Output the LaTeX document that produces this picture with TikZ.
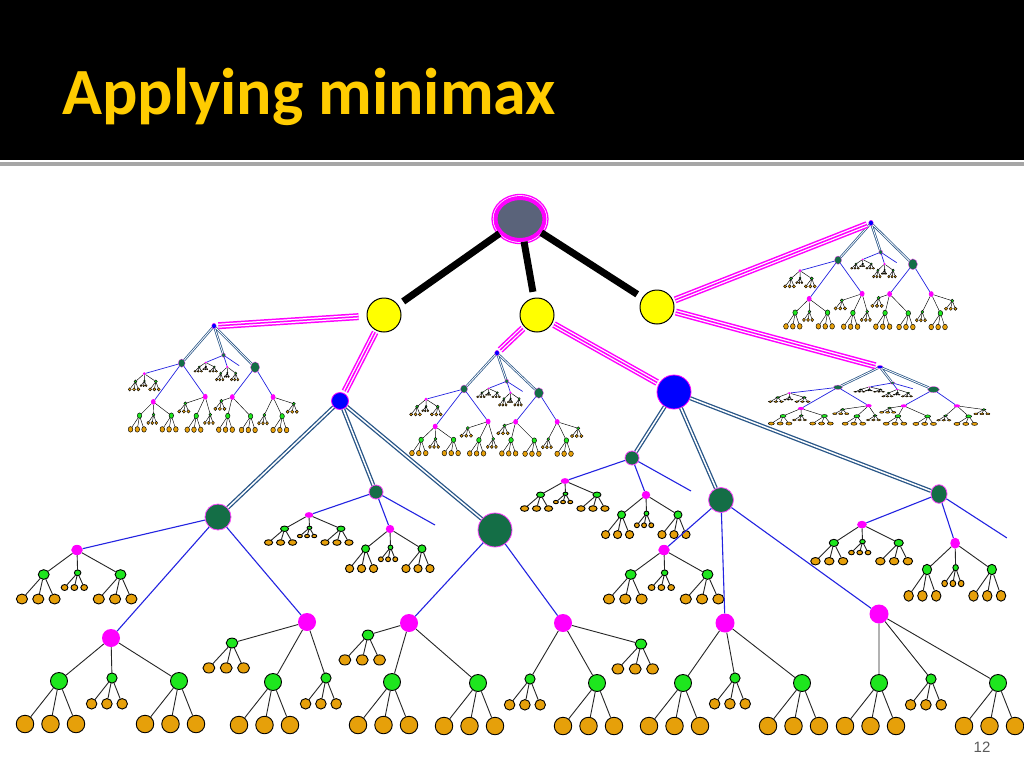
\documentclass[tikz,border=0pt]{standalone}
\usepackage{fontspec}
\setmainfont{Carlito}
\newfontfamily\numfont{Liberation Sans}
\usetikzlibrary{shapes.geometric}
\definecolor{rootC}{RGB}{90,99,122}
\definecolor{titleC}{RGB}{255,204,0}
\definecolor{grnC}{RGB}{30,230,30}
\definecolor{leafC}{RGB}{230,160,10}
\definecolor{dgC}{RGB}{20,110,70}
\definecolor{steelC}{RGB}{40,85,135}
\definecolor{blueE}{RGB}{35,35,225}
\definecolor{magC}{RGB}{255,0,255}
\definecolor{yelC}{RGB}{255,255,0}
\definecolor{numC}{RGB}{90,90,90}
\tikzset{
 nd/.style={circle,inner sep=0pt,transform shape},
 bdrw/.style={line width=0.9pt},
 bdrm/.style={line width=0.8pt},
 nGrn/.style={nd,fill=grnC,draw=black,bdrw,minimum size=17pt},
 nLeaf/.style={nd,fill=leafC,draw=black,bdrw,minimum size=17.5pt},
 nMag/.style={nd,fill=magC,minimum size=18pt},
 nDg/.style={nd,fill=dgC,draw=magC!75!white,bdrm},
 nBlue/.style={nd,fill=blue,draw=magC,bdrm},
 nYel/.style={nd,fill=yelC,draw=black,line width=1pt,minimum size=34pt},
 eSteel/.style={draw=steelC,double=white,line width=1.3pt,double distance=1.5pt},
 eBlue/.style={draw=blueE,line width=1.1pt},
 eBlack/.style={draw=black!85,line width=0.9pt},
 eMagA/.style={draw=magC,double=white,line width=1.5pt,double distance=4pt,shorten <=2pt,shorten >=2pt},
 eMagB/.style={draw=magC,line width=1.5pt,shorten <=2pt,shorten >=2pt},
 eRoot/.style={draw=black,line width=7pt,shorten >=6pt},
 mini/.style={bdrw/.style={line width=0.45pt},bdrm/.style={line width=0.3pt},
   eSteel/.style={draw=steelC,double=white,line width=0.75pt,double distance=0.8pt},
   eBlue/.style={draw=blueE,line width=0.7pt},
   eBlack/.style={draw=black,line width=0.45pt}}
}
\newcommand\GRN[4]{%
 \begin{scope}[shift={#2},xscale=#3,yscale=#4]
 \node[nGrn] (#1) at (0,0) {};
 \node[nLeaf] (#1a) at (-34,43) {};
 \node[nLeaf] (#1b) at (-8.5,43) {};
 \node[nLeaf] (#1c) at (17,43) {};
 \draw[eBlack] (#1)--(#1a) (#1)--(#1b) (#1)--(#1c);
 \end{scope}}
\newcommand\PLY[4]{%
 \begin{scope}[shift={#2},xscale=#3,yscale=#4]
 \node[nMag] (#1) at (0,0) {};
 \GRN{#1x}{(-52,43)}{1}{1}
 \GRN{#1y}{(1,40)}{.6}{.6}
 \GRN{#1z}{(68,43)}{1}{1}
 \draw[eBlack] (#1)--(#1x) (#1)--(#1y) (#1)--(#1z);
 \end{scope}}
\newcommand\GSM[4]{%
 \begin{scope}[shift={#2},xscale=#3,yscale=#4]
 \node[nDg,minimum size=14pt] (#1) at (0,0) {};
 \PLY{#1p}{(-67,23)}{.47}{.32}
 \PLY{#1q}{(14,37)}{.47}{.46}
 \coordinate (#1e) at (59,33);
 \draw[eBlue] (#1)--(#1p) (#1)--(#1q) (#1)--(#1e);
 \end{scope}}
\newcommand\BTREE[4]{%
 \begin{scope}[shift={#2},xscale=#3,yscale=#4]
 \node[nBlue,minimum size=17pt] (#1) at (0,0) {};
 \node[nDg,minimum size=26pt] (#1G) at (-122,116) {};
 \GSM{#1H}{(36,91)}{1}{1}
 \node[nDg,minimum size=34pt] (#1I) at (155,129) {};
 \draw[eSteel] (#1)--(#1G) (#1)--(#1H) (#1)--(#1I);
 \PLY{#1m}{(-263,149)}{.64}{.57}
 \node[nMag] (#1P) at (-229,237) {};
 \GRN{#1Pa}{(-281,280)}{1}{1}
 \GRN{#1Pb}{(-228,277)}{.6}{.6}
 \GRN{#1Pc}{(-161,280)}{1}{1}
 \node[nMag] (#1Q) at (-33,221) {};
 \GRN{#1Qa}{(-108,242)}{.68}{.58}
 \GRN{#1Qb}{(-67,281)}{1}{1}
 \GRN{#1Qc}{(-14,277)}{.6}{.6}
 \node[nMag] (#1R) at (69,222) {};
 \GRN{#1Ra}{(28,234)}{.68}{.58}
 \GRN{#1Rb}{(52,281)}{1}{1}
 \GRN{#1Rc}{(138,282)}{1}{1}
 \node[nMag] (#1S) at (223,222) {};
 \GRN{#1Sa}{(190,278)}{.6}{.6}
 \GRN{#1Sb}{(257,282)}{1}{1}
 \GRN{#1Sc}{(301,243)}{.68}{.58}
 \draw[eBlue] (#1G)--(#1m) (#1G)--(#1P) (#1G)--(#1Q) (#1I)--(#1R) (#1I)--(#1S);
 \draw[eBlack] (#1P)--(#1Pa) (#1P)--(#1Pb) (#1P)--(#1Pc)
   (#1Q)--(#1Qa) (#1Q)--(#1Qb) (#1Q)--(#1Qc)
   (#1R)--(#1Ra) (#1R)--(#1Rb) (#1R)--(#1Rc)
   (#1S)--(#1Sa) (#1S)--(#1Sb) (#1S)--(#1Sc);
 \end{scope}}
\newcommand\TRI[3][]{\draw[eMagA,#1] (#2)--(#3); \draw[eMagB,#1] (#2)--(#3);}
\begin{document}
\begin{tikzpicture}[x=1pt,y=-1pt]
\useasboundingbox (0,0) rectangle (1024,768);
\fill[white] (0,0) rectangle (1024,768);
\fill[black] (0,0) rectangle (1024,160);
\fill[gray!70] (0,161.5) rectangle (1024,166);
\node[anchor=base west,inner sep=0pt,text=titleC,font=\fontsize{66}{78}\selectfont\bfseries] (title) at (62,114) {Applying minimax};
\node[text=numC,font=\numfont\fontsize{15}{17}\selectfont] (pg) at (982,747) {12};
% root and first level
\node[ellipse,draw=magC,line width=1.3pt,minimum width=56pt,minimum height=49pt,inner sep=0pt] (root) at (520,219) {};
\node[ellipse,fill=rootC,draw=magC,line width=4pt,minimum width=49pt,minimum height=42pt,inner sep=0pt] (rooti) at (520,219) {};
\node[nYel] (Y1) at (384,315) {};
\node[nYel] (Y2) at (537,315) {};
\node[nYel] (Y3) at (657,307) {};
\draw[eRoot] (rooti)--(Y1);
\draw[eRoot] (rooti)--(Y2);
\draw[eRoot] (rooti)--(Y3);
% big left subtree
\BTREE{b1}{(340,401)}{1}{1}
% mini subtrees
\begin{scope}[mini]
\BTREE{ma}{(214,326)}{.265}{.32}
\BTREE{mb}{(497,353)}{.27}{.31}
\BTREE{mc}{(871,223)}{.27}{.32}
\BTREE{md}{(880,367)}{.345}{.175}
\end{scope}
% big right subtree
\node[nBlue,minimum size=34pt] (B2) at (674,392) {};
\GSM{Ga}{(632,458)}{1}{1}
\node[nDg,minimum size=25pt] (Gb) at (721,500) {};
\GSM{Gc}{(939,494)}{1.15}{1.33}
\draw[eSteel] (B2)--(Ga) (B2)--(Gb) (B2)--(Gc);
\PLY{Gbm}{(664,550)}{.64}{.57}
\node[nMag,minimum size=19pt] (P5) at (725,623) {};
\GRN{P5a}{(683,683)}{1}{1}
\GRN{P5b}{(735,678)}{.6}{.6}
\GRN{P5c}{(802,683)}{1}{1}
\node[nMag,minimum size=19pt] (P6) at (879,614) {};
\GRN{P6a}{(879,683)}{1}{1}
\GRN{P6b}{(931,679)}{.6}{.6}
\GRN{P6c}{(998,683)}{1}{1}
\draw[eBlue] (Gb)--(Gbm) (Gb)--(P5) (Gb)--(P6);
\draw[eBlack] (P5)--(P5a) (P5)--(P5b) (P5)--(P5c) (P6)--(P6a) (P6)--(P6b) (P6)--(P6c);
% magenta triple connectors
\TRI[shorten <=8pt]{Y1}{ma}
\TRI{Y1}{b1}
\TRI{Y2}{mb}
\TRI{Y2}{B2}
\TRI{Y3}{mc}
\TRI{Y3}{md}
\end{tikzpicture}
\end{document}
